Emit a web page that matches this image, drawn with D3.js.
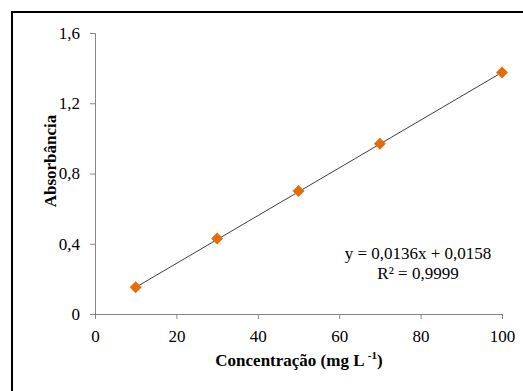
<!DOCTYPE html>
<html>
<head>
<meta charset="utf-8">
<script src="https://cdn.jsdelivr.net/npm/d3@7"></script>
<style>
  body { margin: 0; background: #fff; }
  svg text { font-family: "Liberation Serif", "Times New Roman", serif; }
</style>
</head>
<body>
<svg id="chart"></svg>
<script>
"use strict";

var concentrations = [10, 30, 50, 70, 100];
var absorbances = [0.152, 0.43, 0.70, 0.97, 1.375];
var xTicks = [0, 20, 40, 60, 80, 100];
var yTicks = [0, 0.4, 0.8, 1.2, 1.6];
var slope = 0.0136, intercept = 0.0158;

(function () {
    var width = 523, height = 391;
    var margin = { top: 33, right: 21, bottom: 77, left: 95 },
        chartWidth = width - margin.left - margin.right,
        chartHeight = height - margin.top - margin.bottom;

    var svg = d3.select("#chart")
        .attr("width", width)
        .attr("height", height);

    // outer frame
    svg.append("rect")
        .attr("x", 12).attr("y", 12)
        .attr("width", width).attr("height", height)
        .attr("fill", "none")
        .attr("stroke", "#000")
        .attr("stroke-width", 2);

    var g = svg.append("g")
        .attr("transform", "translate(" + margin.left + "," + margin.top + ")");

    var xScale = d3.scaleLinear().domain([0, 100]).range([0, chartWidth]);
    var yScale = d3.scaleLinear().domain([0, 1.6]).range([chartHeight, 0]);
    var comma = function (d) { return d3.format(".1f")(d).replace(".", ","); };

    var xAxis = g.append("g")
        .attr("transform", "translate(0," + chartHeight + ")")
        .call(d3.axisBottom(xScale).tickValues(xTicks).tickSize(5).tickPadding(11));

    var yAxis = g.append("g")
        .call(d3.axisLeft(yScale).tickValues(yTicks).tickSize(5).tickPadding(10)
            .tickFormat(function (d) { return d === 0 ? "0" : comma(d); }));

    [xAxis, yAxis].forEach(function (a) {
        a.selectAll("path, line").attr("stroke", "#868686");
        a.selectAll("text")
            .attr("fill", "#000")
            .style("font-family", "'Liberation Serif', serif")
            .style("font-size", "17px");
    });

    // trendline
    g.append("line")
        .attr("x1", xScale(concentrations[0]))
        .attr("y1", yScale(slope * concentrations[0] + intercept))
        .attr("x2", xScale(concentrations[concentrations.length - 1]))
        .attr("y2", yScale(slope * concentrations[concentrations.length - 1] + intercept))
        .attr("stroke", "#404040")
        .attr("stroke-width", 1);

    // markers
    g.selectAll("path.pt")
        .data(concentrations)
        .enter()
        .append("path")
        .attr("class", "pt")
        .attr("d", d3.symbol(d3.symbolSquare, 72))
        .attr("transform", function (d, i) {
            return "translate(" + xScale(d) + "," + yScale(absorbances[i]) + ") rotate(45)";
        })
        .attr("fill", "#E46C0A");

    // equation
    g.append("text")
        .attr("x", 323).attr("y", 226)
        .attr("text-anchor", "middle")
        .style("font-size", "17px")
        .text("y = 0,0136x + 0,0158");
    g.append("text")
        .attr("x", 323).attr("y", 246)
        .attr("text-anchor", "middle")
        .style("font-size", "17px")
        .text("R\u00B2 = 0,9999");

    // x axis title
    var xt = svg.append("text")
        .attr("x", 299).attr("y", 366)
        .attr("text-anchor", "middle")
        .style("font-size", "17px")
        .style("font-weight", "bold");
    xt.append("tspan").text("Concentração (mg L ");
    xt.append("tspan").attr("dy", -7).style("font-size", "11px").text("-1");
    xt.append("tspan").attr("dy", 7).text(")");

    // y axis title
    svg.append("text")
        .attr("transform", "translate(56,161) rotate(-90)")
        .attr("text-anchor", "middle")
        .style("font-size", "17px")
        .style("font-weight", "bold")
        .text("Absorbância");
})();
</script>
</body>
</html>
